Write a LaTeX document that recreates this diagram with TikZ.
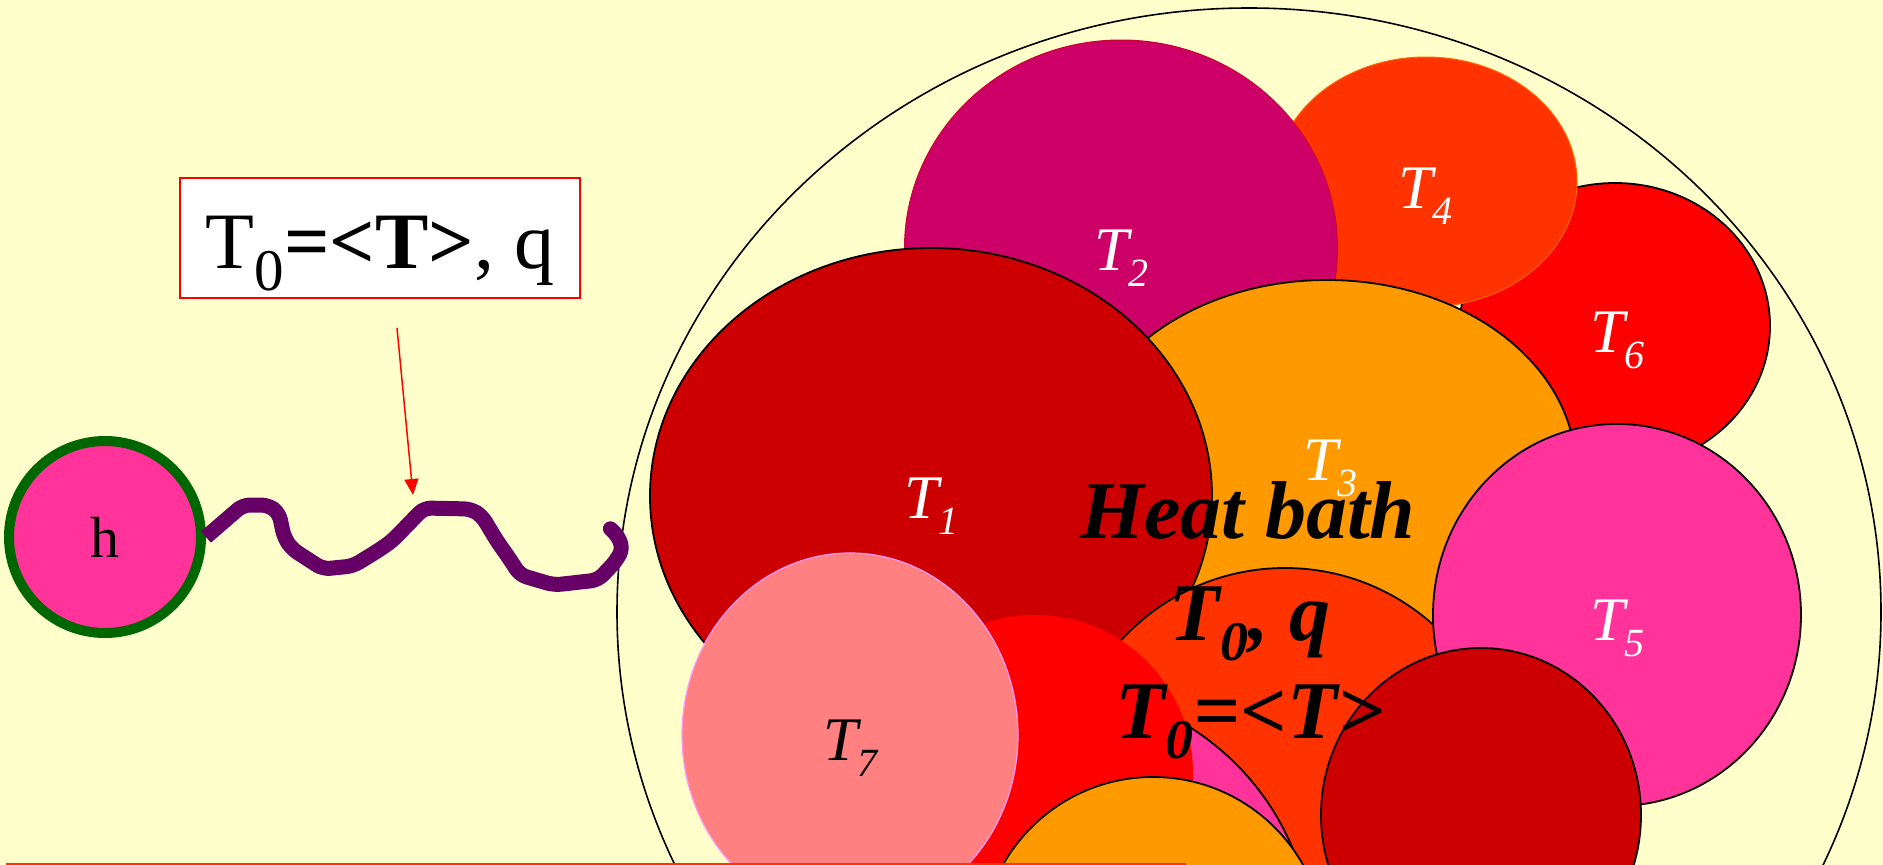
\documentclass[tikz,border=0pt]{standalone}
\usepackage{fontspec}
\setmainfont{Liberation Serif}
\usetikzlibrary{shapes.geometric,arrows.meta}
\definecolor{bg}{HTML}{FFFFCC}
\definecolor{cTa}{HTML}{CC0000}
\definecolor{cTb}{HTML}{CC0066}
\definecolor{cTbe}{HTML}{CC0033}
\definecolor{cTc}{HTML}{FF9900}
\definecolor{cTd}{HTML}{FF3300}
\definecolor{cTde}{HTML}{FF6600}
\definecolor{cTe}{HTML}{FF3399}
\definecolor{cTf}{HTML}{FF0000}
\definecolor{cTg}{HTML}{FF8080}
\definecolor{cTge}{HTML}{FF99FF}
\definecolor{hgreen}{HTML}{006600}
\definecolor{wavec}{HTML}{660066}
\tikzset{
  blob/.style={ellipse, inner sep=0pt, outer sep=0pt, line width=1.8pt, draw=black},
  lab/.style={anchor=base west, inner sep=0pt, text=white},
  hbtext/.style={anchor=base, inner sep=0pt, font=\fontsize{82pt}{82pt}\selectfont\bfseries\itshape},
  wave/.style={draw=wavec, line width=15pt, rounded corners=7pt, line join=round},
}
\newcommand\Tsub[1]{{\fontsize{62pt}{62pt}\selectfont\itshape T\raisebox{-16pt}{\fontsize{40pt}{40pt}\selectfont #1}}}
\begin{document}
\begin{tikzpicture}[x=1pt,y=-1pt]
\fill[bg] (0,0) rectangle (1883,865);
\useasboundingbox (0,0) rectangle (1883,865);
% heat bath outline
\node[blob, fill=none, line width=1.6pt, minimum width=1264pt, minimum height=1208pt] (bath) at (1249,612) {};
% sub-systems
\node[blob, fill=cTf, minimum width=310pt, minimum height=286pt] (t6) at (1615,326) {};
\node[blob, fill=cTd, draw=cTde, line width=1pt, minimum width=302pt, minimum height=250pt] (t4) at (1426,182) {};
\node[blob, fill=cTb, draw=cTbe, line width=1pt, minimum width=433pt, minimum height=416pt] (t2) at (1121,248) {};
\node[blob, fill=cTc, minimum width=498pt, minimum height=380pt] (t3) at (1327,470) {};
\node[blob, fill=cTa, minimum width=562pt, minimum height=496pt] (t1) at (931,496) {};
\node[blob, fill=cTd, minimum width=444pt, minimum height=444pt] (b1) at (1285,790) {};
\node[blob, fill=cTe, minimum width=368pt, minimum height=382pt] (t5) at (1617,615) {};
\node[blob, fill=cTa, minimum width=320pt, minimum height=334pt] (b2) at (1481,815) {};
\node[blob, fill=cTe, minimum width=526pt, minimum height=526pt] (b3) at (1050,950) {};
\node[blob, fill=cTf, draw=none, minimum width=316pt, minimum height=316pt] (b4) at (1035,773) {};
\node[blob, fill=cTg, draw=cTge, line width=1.2pt, minimum width=336pt, minimum height=364pt] (t7) at (850,735) {};
\node[blob, fill=cTc, minimum width=344pt, minimum height=344pt] (b5) at (1153,949) {};
% labels
\node[lab] (l1) at (904,518) {\Tsub{1}};
\node[lab] (l2) at (1094,270) {\Tsub{2}};
\node[lab] (l3) at (1303,480) {\Tsub{3}};
\node[lab] (l4) at (1398,208) {\Tsub{4}};
\node[lab] (l5) at (1590,640) {\Tsub{5}};
\node[lab] (l6) at (1590,352) {\Tsub{6}};
\node[lab, text=black] (l7) at (823,760) {\Tsub{7}};
% heat bath text
\node[hbtext] (hb1) at (1248,538) {Heat bath};
\node[hbtext] (hb2) at (1250,640) {T\raisebox{-20pt}{\fontsize{56pt}{56pt}\selectfont 0}, q};
\node[hbtext] (hb3) at (1250,738) {T\raisebox{-20pt}{\fontsize{56pt}{56pt}\selectfont 0}=<T>};
% small system h
\node[circle, fill=cTe, draw=hgreen, line width=10pt, minimum size=192pt, inner sep=0pt,
      font=\fontsize{58pt}{58pt}\selectfont] (h) at (105,537) {h};
\coordinate (wend) at (612,530);
\draw[wave] (h.east) -- (243,505) -- (268,505) -- (279,513) -- (284,537) -- (292,549)
  -- (323,569) -- (353,566) -- (379,550) -- (392,541) -- (424,508) -- (471,509)
  -- (482,516) -- (497,541) -- (509,558) -- (520,575) -- (554,585) -- (598,580)
  -- (616,561) -- (623,548) -- (616,533) -- (wend);
% label box and arrow
\node[draw=red, line width=2pt, fill=white, minimum width=400pt, minimum height=120pt, inner sep=0pt] (box) at (380,238) {};
\node[anchor=base, inner sep=0pt] (boxtxt) at (380,268)
  {\fontsize{80pt}{80pt}\selectfont T\raisebox{-22pt}{\fontsize{59pt}{59pt}\selectfont 0}\textbf{=<T>}, q};
\coordinate (ara) at (397,328);
\coordinate (arb) at (413,495);
\draw[red, line width=1.5pt, -{Triangle[length=16pt,width=14pt]}] (ara) -- (arb);
% bottom line
\coordinate (bla) at (6,864);
\coordinate (blb) at (1186,864);
\draw[cTd, line width=2.5pt] (bla) -- (blb);
\end{tikzpicture}
\end{document}
